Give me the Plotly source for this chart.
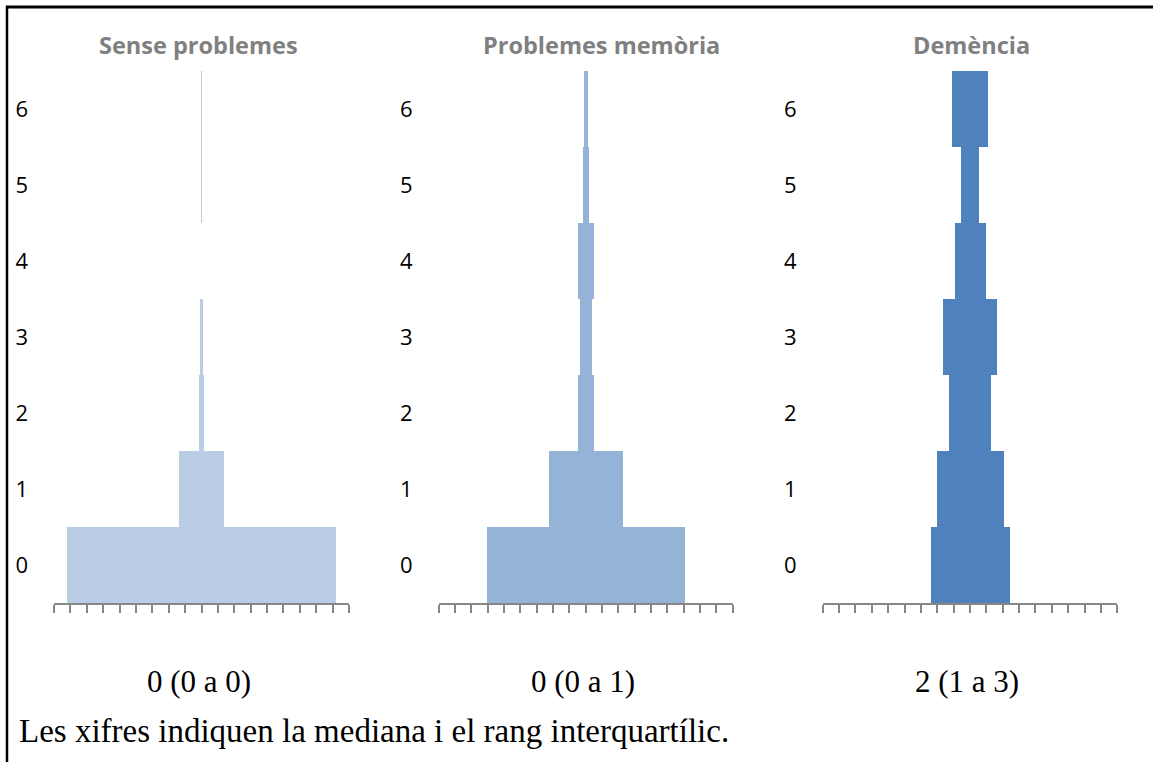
import plotly.graph_objects as go

# Score categories (rows) and share of each group at each score (%)
scores = [0, 1, 2, 3, 4, 5, 6]
groups = ["Sense problemes", "Problemes memòria", "Demència"]
sense_problemes = [82.2, 13.7, 1.7, 1.1, 0.0, 0.3, 0.3]
problemes_memoria = [60.5, 22.6, 5.2, 3.4, 5.2, 1.7, 1.0]
demencia = [24.0, 20.5, 12.8, 16.6, 9.3, 5.6, 11.0]
summaries = ["0 (0 a 0)", "0 (0 a 1)", "2 (1 a 3)"]
footnote = "Les xifres indiquen la mediana i el rang interquartílic."

series = [sense_problemes, problemes_memoria, demencia]
colors = ["#B9CDE5", "#95B3D7", "#4F81BD"]

W, H = 1153, 762
# panel placement in pixels (left, right), shared top/bottom
panels_px = [(54, 349), (438.7, 732.7), (822.7, 1117.3)]
top_px, bottom_px = 71, 603
title_cx = [198, 601, 971]
summary_cx = [199, 583, 967]


def px_x(v):
    return v / W


def px_y(v):
    return 1 - v / H


fig = go.Figure()
layout = dict(
    width=W, height=H,
    margin=dict(l=0, r=0, t=0, b=0),
    paper_bgcolor="white", plot_bgcolor="white",
    barmode="relative", bargap=0,
    showlegend=False,
    annotations=[], shapes=[],
)

for i, (vals, col) in enumerate(zip(series, colors)):
    n = "" if i == 0 else str(i + 1)
    xa, ya = "x" + n, "y" + n
    half = [v / 2 for v in vals]
    # left half (negative) and right half (positive) of each symmetric bar
    for side in (-1, 1):
        fig.add_trace(go.Bar(
            x=[side * h for h in half], y=scores, orientation="h",
            xaxis=xa, yaxis=ya,
            marker=dict(color=col, line=dict(width=0)),
            hoverinfo="skip",
        ))
    l, r = panels_px[i]
    layout["xaxis" + n] = dict(
        domain=[px_x(l), px_x(r)], range=[-45, 45], anchor=ya,
        tick0=0, dtick=5, ticks="outside", ticklen=8, tickwidth=1.5,
        tickcolor="#878787", showline=True, linecolor="#878787", linewidth=2,
        showticklabels=False, showgrid=False, zeroline=False, fixedrange=True,
    )
    layout["yaxis" + n] = dict(
        domain=[px_y(bottom_px), px_y(top_px)], range=[-0.5, 6.5], anchor=xa,
        tickvals=scores, ticktext=[str(s) for s in scores],
        ticks="", showline=False, showgrid=False, zeroline=False,
        ticklabelstandoff=25,
        tickfont=dict(family="Open Sans", size=22, color="#000000"),
    )
    layout["annotations"].append(dict(
        text="<b>" + groups[i] + "</b>", xref="paper", yref="paper",
        x=px_x(title_cx[i]), y=px_y(45), xanchor="center", yanchor="middle",
        showarrow=False, font=dict(family="Open Sans", size=23.5, color="#808080"),
    ))
    layout["annotations"].append(dict(
        text=summaries[i], xref="paper", yref="paper",
        x=px_x(summary_cx[i]), y=px_y(681), xanchor="center", yanchor="middle",
        showarrow=False, font=dict(family="Liberation Serif", size=31, color="#000000"),
    ))

layout["annotations"].append(dict(
    text=footnote, xref="paper", yref="paper",
    x=px_x(17), y=px_y(731), xanchor="left", yanchor="middle",
    showarrow=False, font=dict(family="Liberation Serif", size=33, color="#000000"),
))

# frame lines along the top and left edges
layout["shapes"] += [
    dict(type="line", xref="paper", yref="paper", x0=px_x(6), x1=1,
         y0=px_y(7), y1=px_y(7), line=dict(color="black", width=3)),
    dict(type="line", xref="paper", yref="paper", x0=px_x(7), x1=px_x(7),
         y0=px_y(6), y1=0, line=dict(color="black", width=2.5)),
]

fig.update_layout(**layout)
fig.write_html("out.html")
